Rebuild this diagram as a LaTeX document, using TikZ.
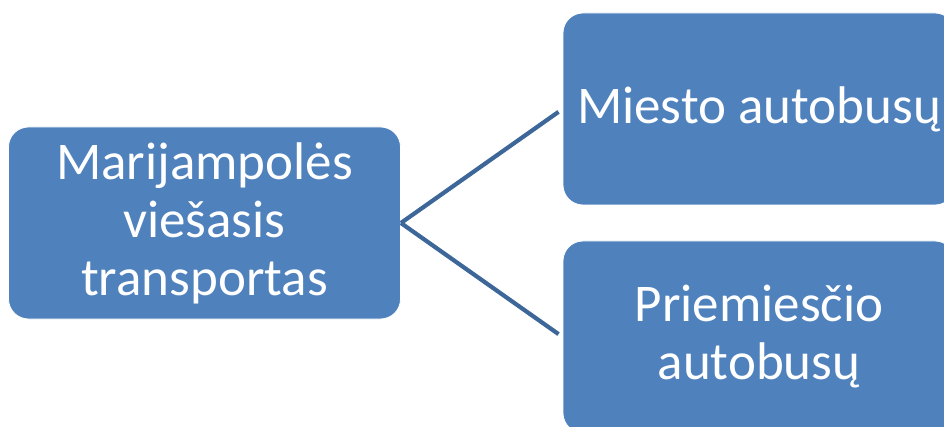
\documentclass[tikz,border=0pt]{standalone}
\usepackage{fontspec}
\setmainfont{Carlito}
\definecolor{boxfill}{HTML}{4F81BD}
\definecolor{linkcol}{HTML}{3D6799}
\begin{document}
\begin{tikzpicture}[x=1pt,y=-1pt,
  box/.style={draw=white, line width=0.8pt, fill=boxfill, rounded corners=20pt,
    minimum width=392pt, minimum height=192pt, inner sep=0pt,
    text=white, align=center, font=\fontsize{53}{58}\selectfont},
  link/.style={draw=linkcol, line width=4.2pt}]
\useasboundingbox (0,0) rectangle (944,427);
\begin{scope}
\clip (0,0) rectangle (944,427);
\node[box] (root) at (204.5,223) {Marijampolės\\viešasis\\transportas};
\node[box] (city) at (759,109) {Miesto autobusų};
\node[box] (sub) at (759,337) {Priemiesčio\\autobusų};
\draw[link, shorten >=5pt] (root.east) -- (city.west);
\draw[link, shorten >=5pt] (root.east) -- (sub.west);
\end{scope}
\end{tikzpicture}
\end{document}
